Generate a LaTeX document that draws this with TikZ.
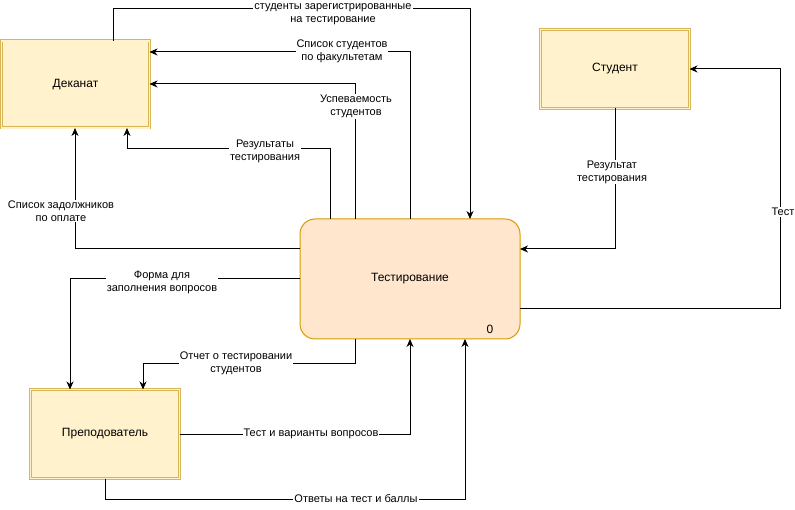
\documentclass[tikz,border=0pt]{standalone}
\usepackage{fontspec}
\setmainfont{Liberation Sans}
\usetikzlibrary{arrows.meta}
\definecolor{extfill}{HTML}{FFF2CC}
\definecolor{extdraw}{HTML}{D6B656}
\definecolor{procfill}{HTML}{FFE6CC}
\definecolor{procdraw}{HTML}{D79B00}
\tikzset{
  entity/.style={draw=extdraw, fill=extfill, double=extfill, double distance=1.4pt,
    line width=0.8pt, outer sep=0pt, inner sep=0pt, font=\fontsize{12}{14}\selectfont},
  process/.style={draw=procdraw, fill=procfill, line width=1pt, rounded corners=15pt,
    outer sep=0pt, inner sep=0pt, font=\fontsize{12}{14}\selectfont},
  flow/.style={line width=1pt, -{Stealth[length=8pt,width=7pt,inset=2.5pt]}},
  flowlabel/.style={fill=white, inner sep=1pt, align=center,
    font=\fontsize{11}{13}\selectfont}
}
\begin{document}
\begin{tikzpicture}[x=1pt, y=-1pt]
\useasboundingbox (0,0) rectangle (795,510);

% external entities and the process
\node[entity, minimum width=148pt, minimum height=87pt] (dek) at (75.5,84.5) {Деканат};
\node[entity, minimum width=149pt, minimum height=79pt] (stu) at (615,69) {Студент};
\node[entity, minimum width=149pt, minimum height=89pt] (pre) at (105,434) {Преподователь};
\node[process, minimum width=220pt, minimum height=120pt] (tst) at (410,279) {Тестирование};
\node[font=\fontsize{12}{14}\selectfont] (num) at (490,329) {0};

% flows between Деканат and Тестирование
\draw[flow] (dek.north -| 113,0) |- (470,9) -- (tst.north -| 470,0);
\draw[flow] (tst.north -| 410,0) |- (dek.east |- 0,52);
\draw[flow] (tst.north -| 355,0) |- (dek.east |- 0,84);
\draw[flow] (tst.north -| 330,0) |- (127,149) -- (dek.south -| 127,0);
\draw[flow] (tst.west |- 0,249) -| (dek.south -| 75,0);

% flows between Преподователь and Тестирование
\draw[flow] (tst.west |- 0,279) -| (pre.north -| 70,0);
\draw[flow] (tst.south -| 355,0) |- (143,364) -- (pre.north -| 143,0);
\draw[flow] (pre.east |- 0,434) -| (tst.south -| 410,0);
\draw[flow] (pre.south -| 105,0) |- (465,499) -- (tst.south -| 465,0);

% flows between Студент and Тестирование
\draw[flow] (stu.south -| 615,0) |- (tst.east |- 0,249);
\draw[flow] (tst.east |- 0,309) -| (780,69) -- (stu.east |- 0,69);

% flow labels
\node[flowlabel] (l1) at (333,14) {студенты зарегистрированные\\на тестирование};
\node[flowlabel] (l2) at (342,51.5) {Список студентов\\по факультетам};
\node[flowlabel] (l3) at (356,106.5) {Успеваемость\\студентов};
\node[flowlabel] (l4) at (265,151.5) {Результаты\\тестирования};
\node[flowlabel] (l5) at (61,211) {Список задолжников\\по оплате};
\node[flowlabel] (l6) at (162,282) {Форма для\\заполнения вопросов};
\node[flowlabel] (l7) at (236,363) {Отчет о тестировании\\студентов};
\node[flowlabel] (l8) at (311,434) {Тест и варианты вопросов};
\node[flowlabel] (l9) at (356,499) {Ответы на тест и баллы};
\node[flowlabel] (l10) at (612,172) {Результат\\тестирования};
\node[flowlabel] (l11) at (783,212) {Тест};
\end{tikzpicture}
\end{document}
